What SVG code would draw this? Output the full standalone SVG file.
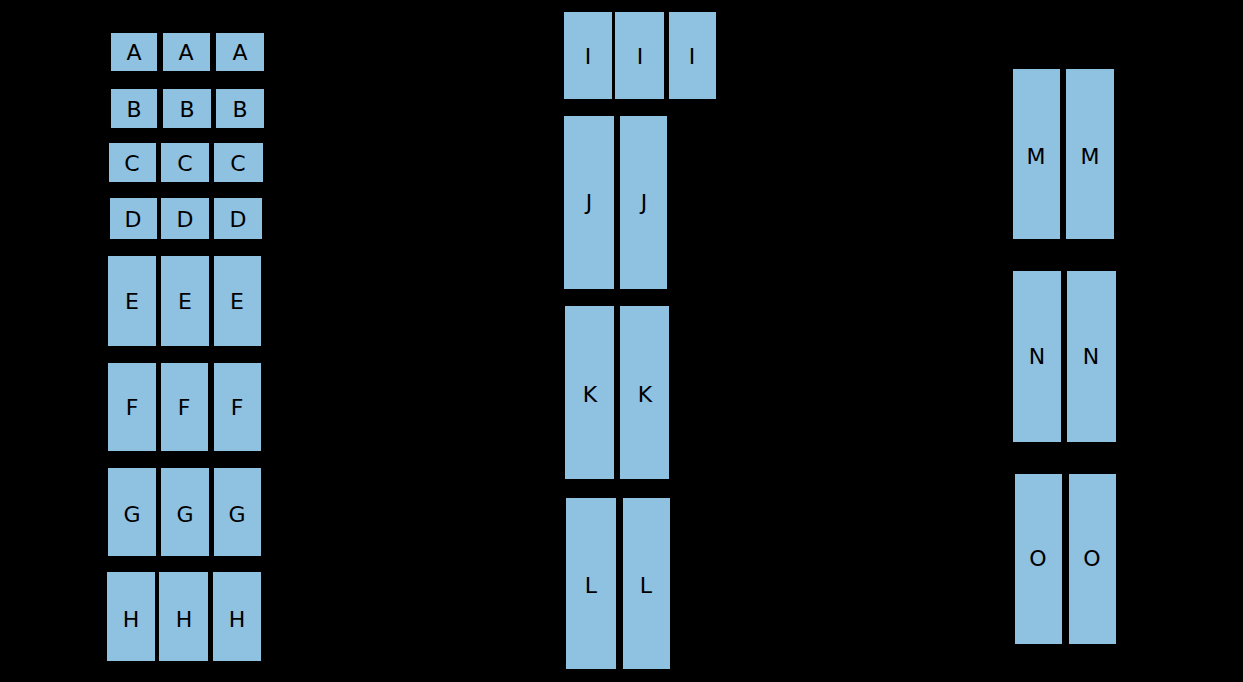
<svg xmlns="http://www.w3.org/2000/svg" width="1243" height="682" viewBox="0 0 1243 682">
<style>
.c{fill:#8fc1e1;stroke:#000;stroke-width:2;}
.t{font-family:"DejaVu Sans","Liberation Sans",sans-serif;font-size:22px;fill:#000;text-anchor:middle;dominant-baseline:central;}
</style>
<rect x="0" y="0" width="1243" height="682" fill="#000"/>
<g id="rowA">
<rect class="c" x="110" y="32" width="48" height="40"/><text class="t" x="134" y="52">A</text>
<rect class="c" x="162" y="32" width="49" height="40"/><text class="t" x="186" y="52">A</text>
<rect class="c" x="215" y="32" width="50" height="40"/><text class="t" x="240" y="52">A</text>
</g>
<g id="rowB">
<rect class="c" x="110" y="88" width="48" height="41"/><text class="t" x="134" y="109">B</text>
<rect class="c" x="162" y="88" width="50" height="41"/><text class="t" x="187" y="109">B</text>
<rect class="c" x="215" y="88" width="50" height="41"/><text class="t" x="240" y="109">B</text>
</g>
<g id="rowC">
<rect class="c" x="108" y="142" width="49" height="41"/><text class="t" x="132" y="163">C</text>
<rect class="c" x="160" y="142" width="50" height="41"/><text class="t" x="185" y="163">C</text>
<rect class="c" x="213" y="142" width="51" height="41"/><text class="t" x="238" y="163">C</text>
</g>
<g id="rowD">
<rect class="c" x="109" y="197" width="49" height="43"/><text class="t" x="133" y="219">D</text>
<rect class="c" x="160" y="197" width="50" height="43"/><text class="t" x="185" y="219">D</text>
<rect class="c" x="213" y="197" width="50" height="43"/><text class="t" x="238" y="219">D</text>
</g>
<g id="rowE">
<rect class="c" x="107" y="255" width="50" height="92"/><text class="t" x="132" y="301">E</text>
<rect class="c" x="160" y="255" width="50" height="92"/><text class="t" x="185" y="301">E</text>
<rect class="c" x="213" y="255" width="49" height="92"/><text class="t" x="237" y="301">E</text>
</g>
<g id="rowF">
<rect class="c" x="107" y="362" width="50" height="90"/><text class="t" x="132" y="407">F</text>
<rect class="c" x="160" y="362" width="49" height="90"/><text class="t" x="184" y="407">F</text>
<rect class="c" x="213" y="362" width="49" height="90"/><text class="t" x="237" y="407">F</text>
</g>
<g id="rowG">
<rect class="c" x="107" y="467" width="50" height="90"/><text class="t" x="132" y="514">G</text>
<rect class="c" x="160" y="467" width="50" height="90"/><text class="t" x="185" y="514">G</text>
<rect class="c" x="213" y="467" width="49" height="90"/><text class="t" x="237" y="514">G</text>
</g>
<g id="rowH">
<rect class="c" x="106" y="571" width="50" height="91"/><text class="t" x="131" y="619">H</text>
<rect class="c" x="158" y="571" width="51" height="91"/><text class="t" x="184" y="619">H</text>
<rect class="c" x="212" y="571" width="50" height="91"/><text class="t" x="237" y="619">H</text>
</g>
<g id="rowI">
<rect class="c" x="563" y="11" width="50" height="89"/><text class="t" x="588" y="56">I</text>
<rect class="c" x="614" y="11" width="51" height="89"/><text class="t" x="640" y="56">I</text>
<rect class="c" x="668" y="11" width="49" height="89"/><text class="t" x="692" y="56">I</text>
</g>
<g id="rowJ">
<rect class="c" x="563" y="115" width="52" height="175"/><text class="t" x="589" y="202">J</text>
<rect class="c" x="619" y="115" width="49" height="175"/><text class="t" x="644" y="202">J</text>
</g>
<g id="rowK">
<rect class="c" x="564" y="305" width="51" height="175"/><text class="t" x="590" y="394">K</text>
<rect class="c" x="619" y="305" width="51" height="175"/><text class="t" x="645" y="394">K</text>
</g>
<g id="rowL">
<rect class="c" x="565" y="497" width="52" height="173"/><text class="t" x="591" y="585">L</text>
<rect class="c" x="622" y="497" width="49" height="173"/><text class="t" x="646" y="585">L</text>
</g>
<g id="rowM">
<rect class="c" x="1012" y="68" width="49" height="172"/><text class="t" x="1036" y="156">M</text>
<rect class="c" x="1065" y="68" width="50" height="172"/><text class="t" x="1090" y="156">M</text>
</g>
<g id="rowN">
<rect class="c" x="1012" y="270" width="50" height="173"/><text class="t" x="1037" y="356">N</text>
<rect class="c" x="1066" y="270" width="51" height="173"/><text class="t" x="1091" y="356">N</text>
</g>
<g id="rowO">
<rect class="c" x="1014" y="473" width="49" height="172"/><text class="t" x="1038" y="558">O</text>
<rect class="c" x="1068" y="473" width="49" height="172"/><text class="t" x="1092" y="558">O</text>
</g>
<g id="connectors"></g>
</svg>
